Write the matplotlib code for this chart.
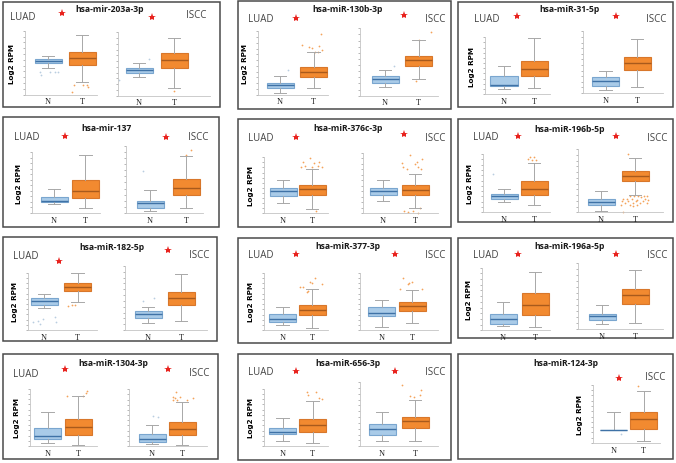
import matplotlib
matplotlib.use("Agg")
import matplotlib.pyplot as plt
from matplotlib.patches import Rectangle
import numpy as np

W, H = 676, 464

titles = ["hsa-mir-203a-3p", "hsa-miR-130b-3p", "hsa-miR-31-5p",
          "hsa-mir-137", "hsa-miR-376c-3p", "hsa-miR-196b-5p",
          "hsa-miR-182-5p", "hsa-miR-377-3p", "hsa-miR-196a-5p",
          "hsa-miR-1304-3p", "hsa-miR-656-3p", "hsa-miR-124-3p"]

# box summaries: [whisker low, Q1, median, Q3, whisker high] on a 0-10 axis scale
luad_n = [[4.1, 4.9, 5.26, 5.57, 6.0], [0.2, 1.0, 1.53, 1.84, 3.0],
          [0.88, 1.47, 1.65, 3.1, 5.0], [1.43, 1.76, 1.92, 2.58, 4.0],
          [1.8, 3.15, 4.0, 4.6, 6.0], [1.77, 2.23, 2.74, 3.14, 3.94],
          [3.9, 4.36, 5.0, 5.64, 6.34], [1.0, 1.5, 1.9, 2.77, 4.05],
          [0.64, 1.06, 1.76, 2.55, 4.57], [0.58, 1.28, 1.8, 3.14, 5.9],
          [1.0, 2.08, 2.5, 3.18, 5.0], None]
luad_t = [[2.0, 4.7, 5.7, 6.6, 9.3], [1.0, 2.8, 3.6, 4.4, 6.8],
          [1.0, 3.1, 4.4, 5.9, 9.8], [0.82, 2.47, 3.57, 5.36, 9.5],
          [0.7, 3.3, 4.3, 5.1, 7.9], [1.2, 3.0, 4.06, 5.4, 8.4],
          [4.9, 6.8, 7.56, 8.25, 10.0], [0.46, 2.6, 3.5, 4.4, 7.1],
          [0.53, 2.45, 4.04, 5.9, 9.36], [0.23, 1.98, 3.3, 4.77, 8.66],
          [0.64, 2.5, 3.65, 4.74, 7.8], None]
iscc_n = [[2.9, 3.53, 4.05, 4.37, 5.1], [1.24, 1.88, 2.43, 2.87, 3.86],
          [0.43, 1.08, 1.95, 2.54, 3.5], [0.35, 0.74, 1.48, 1.83, 3.47],
          [2.1, 3.04, 3.65, 4.2, 5.47], [0.16, 1.2, 1.68, 2.1, 3.3],
          [1.15, 1.93, 2.45, 2.97, 3.6], [0.64, 2.43, 3.06, 4.05, 5.2],
          [0.76, 1.41, 1.97, 2.37, 3.69], [0.3, 0.7, 1.18, 2.06, 3.76],
          [0.83, 1.8, 2.64, 3.42, 5.34], [2.2, 2.2, 2.2, 2.2, 5.4]]
iscc_t = [[1.15, 4.3, 5.6, 6.7, 9.05], [2.43, 4.45, 5.3, 5.94, 8.27],
          [0.92, 3.7, 4.8, 5.9, 8.75], [0.69, 2.67, 3.7, 5.0, 8.47],
          [0.94, 3.1, 3.87, 4.7, 6.6], [2.7, 4.9, 5.8, 6.5, 8.5],
          [1.4, 3.9, 4.95, 5.94, 8.7], [1.33, 3.35, 4.2, 4.9, 7.0],
          [1.0, 3.9, 5.25, 6.06, 8.94], [0.24, 1.88, 3.0, 4.24, 7.76],
          [0.88, 2.9, 3.94, 4.6, 7.15], [0.29, 2.4, 4.1, 5.26, 8.86]]

# outliers as (offset from box centre, value)
luad_n_out = [[(-0.25, 3.5), (0.05, 3.5), (0.2, 3.5), (0.29, 3.5), (-0.2, 3.07)],
              [(0.25, 3.9)], [], [], [], [(-0.38, 6.6)],
              [(-0.32, 1.45), (-0.17, 1.56), (-0.02, 1.86), (-0.12, 1.1), (0.33, 2.3), (0.36, 1.45)],
              [], [], [], [], []]
luad_t_out = [[(-0.23, 1.56), (0.02, 1.56), (0.15, 1.56), (0.17, 1.25), (-0.29, 0.47)],
              [(-0.33, 7.9), (-0.13, 7.5), (-0.03, 7.3), (0.03, 6.8), (0.13, 6.8), (0.23, 9.6), (0.25, 7.05), (0.15, 7.7)],
              [], [],
              [(-0.38, 8.2), (-0.24, 8.5), (-0.07, 9.8), (0.08, 9.0), (0.2, 8.5), (0.33, 8.2), (0.01, 8.3), (-0.32, 9.2), (0.24, 9.1), (0.13, 0.45)],
              [(-0.13, 9.4), (0.0, 9.5), (-0.08, 9.0), (0.07, 9.0), (-0.19, 9.2)],
              [(-0.27, 4.2), (-0.17, 4.3), (-0.07, 4.4)],
              [(-0.41, 7.5), (-0.3, 7.6), (-0.18, 6.6), (-0.07, 8.4), (0.01, 8.2), (0.1, 9.1), (-0.12, 6.8), (0.35, 8.0)],
              [],
              [(-0.37, 8.8), (0.26, 9.2), (0.3, 9.6), (0.17, 8.8)],
              [(-0.19, 9.4), (-0.14, 8.85), (0.11, 9.5), (0.22, 8.3), (0.31, 8.15)],
              None]
iscc_n_out = [[(0.28, 5.8), (-0.56, 2.4)], [(0.28, 4.45)], [], [(-0.2, 6.2)], [], [],
              [(-0.14, 4.6), (0.18, 5.05)], [], [], [(0.04, 5.3), (0.21, 5.1)], [],
              [(0.24, 1.5)]]
iscc_t_out = [[(0.0, 0.8)],
              [(0.0, 8.3), (0.38, 9.5), (-0.07, 2.2)],
              [],
              [(0.0, 8.6), (0.14, 9.4)],
              [(-0.16, 9.7), (-0.42, 8.3), (0.0, 8.2), (0.1, 7.6), (0.19, 7.3), (0.23, 9.0), (-0.36, 7.6),
               (-0.26, 7.3), (0.05, 8.5), (-0.33, 0.44), (-0.23, 0.28), (-0.05, 0.3), (0.16, 0.8), (0.08, 0.0)],
              [(-0.2, 9.2), (-0.36, 0.0), (-0.15, 2.6), (-0.03, 2.5), (0.08, 2.6), (0.17, 2.4), (0.25, 2.6),
               (0.34, 2.5), (-0.34, 2.1), (-0.25, 2.1), (-0.1, 2.1), (0.29, 2.1), (-0.39, 1.75), (-0.2, 1.75),
               (0.03, 1.75), (0.23, 1.75), (-0.29, 1.45), (-0.07, 1.45), (0.15, 1.45), (0.36, 1.45),
               (-0.42, 1.2), (-0.15, 1.2), (0.07, 1.2), (0.39, 1.95), (0.05, 1.95), (-0.05, 1.0)],
              [],
              [(-0.3, 9.1), (-0.1, 8.2), (0.0, 8.4), (-0.39, 7.2), (0.32, 7.2), (-0.14, 8.0)],
              [],
              [(-0.31, 8.6), (-0.2, 9.5), (-0.07, 8.7), (-0.29, 8.1), (-0.16, 8.2), (0.16, 8.1), (0.36, 8.5), (-0.23, 8.4)],
              [(-0.38, 9.6), (-0.15, 7.9), (-0.02, 7.6), (0.18, 8.8), (0.15, 8.0)],
              [(-0.17, 9.77)]]

# ---- layout in pixels ----
frames = [(3, 3, 220, 108), (238, 2, 451, 110), (458, 3, 673, 108),
          (3, 118, 219, 228), (238, 120, 451, 228), (458, 120, 673, 223),
          (3, 238, 217, 342), (238, 239, 451, 344), (458, 239, 673, 339),
          (3, 355, 218, 460), (238, 355, 451, 461), (458, 355, 673, 460)]
title_xy = [(110, 10), (348, 10), (570, 10), (107, 129), (348, 129), (570, 130),
            (112, 248), (348, 247), (570, 247), (113, 364), (348, 364), (566, 364)]
luad_xy = [(10, 17), (248, 20), (474, 19), (14, 138), (248, 139), (473, 138),
           (13, 257), (248, 256), (473, 256), (13, 375), (248, 373), None]
iscc_xy = [(206, 16), (445, 20), (666, 19), (208, 138), (445, 139), (667, 139),
           (209, 256), (445, 256), (667, 256), (209, 374), (445, 373), (665, 378)]
star_luad = [(62, 14), (296, 19), (517, 17), (65, 137), (296, 138), (518, 137),
             (59, 262), (296, 255), (518, 255), (65, 370), (296, 372), None]
star_iscc = [(152, 18), (404, 16), (616, 17), (166, 138), (404, 135), (616, 137),
             (168, 251), (395, 255), (616, 255), (168, 370), (395, 372), (619, 379)]
# axes: x0, x1, centre N, centre T, y top, y bottom
geo_luad = [(25, 97, 48, 82, 31.7, 95.7), (258, 328, 280, 313.5, 32.3, 95.7),
            (485, 550, 504, 534, 38.3, 95), (32, 100, 54, 85.5, 153.3, 214),
            (264, 328, 283, 312, 158.3, 214.3), (483, 550, 504, 534, 155, 213.3),
            (28, 97, 44, 77.5, 273.7, 331), (264, 328, 282.5, 312, 273.7, 331.3),
            (482, 550, 503, 535, 268.7, 331.3), (30, 97, 47.5, 78, 389.7, 447),
            (264, 328, 282.5, 312.5, 389.7, 447.3), None]
geo_iscc = [(118, 210, 139, 174, 33.3, 96.7), (360, 438, 385, 418.5, 29.3, 96.7),
            (583, 663, 605.5, 637, 32.3, 94), (126, 203, 150, 186, 146.7, 214),
            (363, 438, 383, 415, 154, 214.3), (578, 663, 601, 635, 150, 213.3),
            (125, 207, 148, 181, 267, 331), (360, 438, 381.5, 412, 273.7, 331.3),
            (578, 663, 602, 635, 264.3, 330.3), (129, 207, 152, 182, 390.3, 447),
            (360, 438, 382, 415, 383, 447.3), (593, 660, 613.5, 643.5, 385.7, 444)]

N_FACE, N_EDGE, N_MED, N_DOT = "#a9cbe8", "#7aa6cf", "#3f72a6", "#b9cde0"
T_FACE, T_EDGE, T_MED, T_DOT = "#f28a30", "#d8772b", "#a85a1c", "#f4a35a"
WHISK = "#a8a8a8"

fig = plt.figure(figsize=(W / 100, H / 100), dpi=100)
bg = fig.add_axes([0, 0, 1, 1])
bg.set_xlim(0, W)
bg.set_ylim(H, 0)
bg.axis("off")


def draw_pair(geom, n_stats, t_stats, n_out, t_out):
    x0, x1, cn, ct, yt, yb = geom
    sep = ct - cn
    ax = fig.add_axes([x0 / W, 1 - yb / H, (x1 - x0) / W, (yb - yt) / H])
    ax.patch.set_alpha(0)
    w = 27 / sep
    stats = []
    for vals, lab in ((n_stats, "N"), (t_stats, "T")):
        lo, q1, med, q3, hi = vals
        stats.append(dict(whislo=lo, q1=q1, med=med, q3=q3, whishi=hi,
                          fliers=[], label=lab))
    bp = ax.bxp(stats, positions=[1, 2], widths=w, capwidths=0.45 * w,
                patch_artist=True, showfliers=False,
                whiskerprops=dict(color=WHISK, lw=0.7),
                capprops=dict(color=WHISK, lw=0.7),
                boxprops=dict(lw=0.8), medianprops=dict(lw=1.0))
    for k, (fc, ec, mc) in enumerate(((N_FACE, N_EDGE, N_MED), (T_FACE, T_EDGE, T_MED))):
        bp["boxes"][k].set_facecolor(fc)
        bp["boxes"][k].set_edgecolor(ec)
        bp["medians"][k].set_color(mc)
    for pos, pts, col in ((1, n_out, N_DOT), (2, t_out, T_DOT)):
        if pts:
            ax.scatter([pos + p[0] for p in pts], [p[1] for p in pts],
                       s=1.6, color=col, lw=0, clip_on=False)
    for art in ax.get_children():
        try:
            art.set_clip_on(False)
        except Exception:
            pass
    ax.set_xlim(1 - (cn - x0) / sep, 1 + (x1 - cn) / sep)
    ax.set_ylim(0, 10)
    ax.set_yticks(np.linspace(0, 10, 12))
    ax.set_yticklabels([])
    ax.tick_params(axis="y", length=1.8, width=0.5, color="#9a9a9a")
    ax.tick_params(axis="x", length=0, pad=2)
    ax.set_xticks([1, 2])
    ax.set_xticklabels(["N", "T"], fontsize=6, family="Liberation Serif",
                       color="#222222")
    for side in ("top", "right"):
        ax.spines[side].set_visible(False)
    for side in ("left", "bottom"):
        ax.spines[side].set_color("#c4c4c4")
        ax.spines[side].set_linewidth(0.6)
    return ax


for i in range(12):
    x0, y0, x1, y1 = frames[i]
    bg.add_patch(Rectangle((x0, y0), x1 - x0, y1 - y0, fill=False,
                           ec="#4a4a4a", lw=1.1))
    bg.text(title_xy[i][0], title_xy[i][1], titles[i], ha="center", va="center",
            fontsize=6.2, fontweight="bold", family="Open Sans", color="#1a1a1a")
    bg.text(iscc_xy[i][0], iscc_xy[i][1], "ISCC", ha="right", va="center",
            fontsize=7, family="Open Sans", color="#444444")
    bg.plot(*star_iscc[i], marker="*", color="#e8231e", ms=6, mew=0)
    if luad_xy[i] is not None:
        bg.text(luad_xy[i][0], luad_xy[i][1], "LUAD", ha="left", va="center",
                fontsize=7, family="Open Sans", color="#444444")
        bg.plot(*star_luad[i], marker="*", color="#e8231e", ms=6, mew=0)
        axl = draw_pair(geo_luad[i], luad_n[i], luad_t[i], luad_n_out[i], luad_t_out[i])
        axl.set_ylabel("Log2 RPM", fontsize=5.2, fontweight="bold", labelpad=2)
    axr = draw_pair(geo_iscc[i], iscc_n[i], iscc_t[i], iscc_n_out[i], iscc_t_out[i])
    if luad_xy[i] is None:
        axr.set_ylabel("Log2 RPM", fontsize=5.2, fontweight="bold", labelpad=2)

fig.savefig("out.png", dpi=100)
